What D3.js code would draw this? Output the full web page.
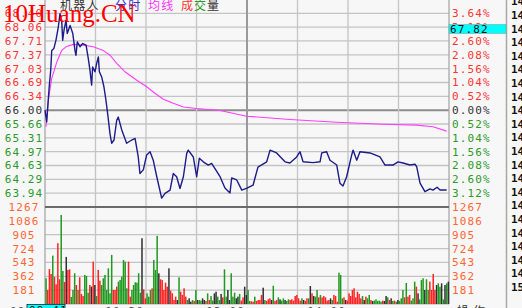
<!DOCTYPE html>
<html>
<head>
<meta charset="utf-8">
<script src="https://cdn.jsdelivr.net/npm/d3@7/dist/d3.min.js"></script>
<style>
html, body { margin: 0; padding: 0; background: #f7f7f7; overflow: hidden; }
svg { display: block; }
text { font-family: "DejaVu Sans Mono", monospace; font-size: 11px; }
</style>
</head>
<body>
<div id="vis"></div>
<script>
var preClose = 66.00;
var priceTicks = ["68.40","68.06","67.71","67.37","67.03","66.69","66.34","66.00","65.66","65.31","64.97","64.63","64.29","63.94"];
var pctTicks = ["3.64%","3.12%","2.60%","2.08%","1.56%","1.04%","0.52%","0.00%","0.52%","1.04%","1.56%","2.08%","2.60%","3.12%"];
var volTicks = ["1267","1086","905","724","543","362","181"];
var timeTickMins = [60, 120, 180];
var timeLabels = ["10:30","13:00","14:00"];
var tradeTimes = ["14:43","14:44","14:45","14:46","14:47","14:48","14:49","14:50","14:51","14:52","14:53","14:54",
  "14:55","14:55","14:56","14:56","14:57","14:57","14:58","14:58","14:59","15:00"];

var priceMin = [0,1,2.5,3.4,4,5.3,6.5,7.9,8.9,9.9,10.5,11.3,12.5,13.2,14.9,16.5,17.8,18.4,19.2,20.8,22.4,24.4,25.7,26.7,27.7,28.3,29.7,30.7,31.7,32.3,33.7,35,36.2,37.2,38.6,39.6,41,42.6,43.5,45.6,48.5,51.5,53.5,55.4,56.4,58.4,60.4,62.4,64.3,66.4,69.3,71.3,74.3,76.2,78.2,80.2,82.2,84.2,85.1,88.1,90.1,91.7,94,97,99,104,106.9,109.9,110.9,113.9,116.9,120,123.6,126.5,131.7,133.7,137.6,142.6,145.5,149.5,151.5,153.3,159.2,163.4,164.4,167.3,169.3,173.3,175.2,177,179.2,182.2,183,185.2,187.1,193.1,199,202,206.7,209.7,212.7,216.8,219.8,220.8,222.8,225.7,228.7,230.5,232.9,234.7,238.6];
var priceVal = [66.00,65.71,66.58,66.99,67.48,67.53,67.73,68.06,68.39,68.23,67.73,67.98,68.23,67.90,68.10,67.90,67.48,67.36,67.69,67.57,67.65,67.61,67.28,66.99,66.62,67.07,66.95,67.16,67.32,66.95,66.82,66.58,66.25,65.92,65.42,65.18,65.26,65.75,65.83,65.51,65.18,65.26,65.30,64.84,64.43,64.52,64.89,64.97,64.76,64.35,63.82,63.94,64.02,64.43,64.35,64.06,64.35,64.93,65.01,64.84,64.35,64.81,64.72,64.64,64.68,64.35,64.07,63.95,64.32,64.27,64.02,64.07,64.14,64.59,64.72,65.01,64.94,64.72,64.69,64.84,64.97,64.72,64.70,64.72,64.94,64.97,64.76,64.64,64.19,64.12,64.35,64.89,65.01,64.76,64.97,64.94,64.84,64.64,64.64,64.72,64.69,64.64,64.66,64.60,64.19,63.98,64.05,64.02,64.09,64.02,64.02];

var avgMin = [0.6,2,4,7,9.9,12.9,16.8,22.8,28.7,34.6,38.6,42.6,47.5,54.5,60.4,65.3,70.3,76.2,82.2,90.1,104,119.8,145.5,173.3,201,220.8,230.5,238.6];
var avgVal = [65.59,66.25,66.79,67.19,67.48,67.58,67.63,67.61,67.57,67.48,67.36,67.16,66.95,66.74,66.58,66.42,66.27,66.17,66.08,66.04,65.99,65.85,65.77,65.70,65.65,65.63,65.59,65.48];

var volume = [336,183,456,392,632,353,257,794,323,1163,
  432,288,615,445,453,92,183,401,248,183,
  349,131,105,379,366,148,248,227,553,248,
  105,445,305,248,336,379,183,466,140,641,
  183,183,227,292,314,357,575,553,205,553,
  96,183,248,283,279,401,148,859,191,74,
  140,96,183,205,575,445,890,401,323,314,
  183,279,227,466,174,140,52,96,52,349,
  161,118,205,96,52,74,30,52,40,183,
  52,52,45,74,52,40,139,52,104,45,
  139,161,96,52,131,87,453,96,183,52,
  401,96,148,74,96,131,45,87,226,118,
  183,40,35,30,96,40,52,52,118,213,
  52,40,61,74,52,239,40,52,87,61,
  45,74,52,40,61,52,61,45,104,118,
  74,44,74,52,40,74,74,235,139,104,
  96,183,87,118,87,104,87,45,52,74,
  52,118,104,30,409,379,74,87,52,45,
  139,104,183,205,87,161,131,74,104,52,
  96,74,118,52,39,45,61,40,44,30,
  44,40,104,87,52,74,40,44,30,52,
  40,74,183,87,275,96,118,45,74,292,
  227,139,60,314,336,183,323,183,292,183,
  392,183,248,270,226,270,60,248,270,292];
var volDir = ("grrrgrrrrg" + "grkrrgggrg" + "rrrgggrkrk" + "grrggggggg" + "rrrggggggr" +
  "rggggggkrr" + "gggrgggkrr" + "rrrkrrrrkg" + "rrrrgkkgrg" + "kggkkrgrgg" +
  "kkggkrggkk" + "gggkkgrrkk" + "ggrrgrrrrk" + "grrrkgrrgk" + "ggkggrrrrr" +
  "rrgkrrgkrk" + "ggrgrrrrrk" + "grrrgggrkr" + "rrrrrrrrgk" + "rggrkggggg" +
  "rkkgrkgrgk" + "gggrgrrggg" + "rkgggkggrr" + "rrkggkgkgk").split("");

var W = 522, H = 308;
var plotLeft = 45, plotRight = 449, plotTop = 13.3, plotMid = 207, plotBottom = 304;

var svg = d3.select("#vis").append("svg").attr("width", W).attr("height", H);
svg.append("rect").attr("width", W).attr("height", H).attr("fill", "#f7f7f7");

var x = d3.scaleLinear().domain([0, 240]).range([plotLeft, plotRight]);
var step = 0.3428;
var y = d3.scaleLinear().domain([preClose - 7 * step, preClose + 7 * step]).range([plotMid, plotTop]);
var yv = d3.scaleLinear().domain([0, 1267]).range([plotBottom, plotMid]);

var priceLevels = priceTicks.map(function(d, i) { return preClose + (7 - i) * step; });
var volLevels = volTicks.map(function(d) { return +d; });

// horizontal grid
svg.selectAll(".hgrid").data(priceLevels).enter().append("line")
  .attr("x1", plotLeft).attr("x2", plotRight)
  .attr("y1", function(d) { return y(d); }).attr("y2", function(d) { return y(d); })
  .attr("stroke", function(d, i) { return i == 7 ? "#8c8c8c" : "#c4c4c4"; })
  .attr("stroke-width", function(d, i) { return i == 7 ? 2 : 1.3; });
svg.selectAll(".vgrid").data(volLevels.slice(1).concat([0])).enter().append("line")
  .attr("x1", plotLeft).attr("x2", plotRight)
  .attr("y1", function(d) { return yv(d); }).attr("y2", function(d) { return yv(d); })
  .attr("stroke", "#c4c4c4").attr("stroke-width", 1.3);

// vertical grid
svg.selectAll(".tgrid").data(d3.range(0, 241, 30)).enter().append("line")
  .attr("x1", function(d) { return x(d); }).attr("x2", function(d) { return x(d); })
  .attr("y1", 0).attr("y2", plotBottom)
  .attr("stroke", function(d) { return d == 120 ? "#9a9a9a" : (d == 0 || d == 240 ? "#a8a8a8" : "#c4c4c4"); })
  .attr("stroke-width", function(d) { return d == 120 ? 2 : 1.3; });

svg.append("line").attr("x1", plotLeft).attr("x2", plotRight).attr("y1", plotMid).attr("y2", plotMid)
  .attr("stroke", "#6a6a6a").attr("stroke-width", 2);
svg.append("line").attr("x1", 506.5).attr("x2", 506.5).attr("y1", 0).attr("y2", H)
  .attr("stroke", "#a8a8a8").attr("stroke-width", 1.5);

// volume bars
var volColors = { r: "#ff2222", g: "#1f9a1f", k: "#303030" };
svg.selectAll(".bar").data(volume).enter().append("rect")
  .attr("x", function(d, i) { return x(i) + 0.3; })
  .attr("y", function(d) { return yv(d); })
  .attr("width", 1.5)
  .attr("height", function(d) { return plotBottom - yv(d); })
  .attr("fill", function(d, i) { return volColors[volDir[i]]; });

// average and price lines
var line = d3.line().x(function(d) { return x(d[0]); }).y(function(d) { return y(d[1]); });
svg.append("path").datum(d3.zip(avgMin, avgVal)).attr("d", line)
  .attr("fill", "none").attr("stroke", "#ff3cff").attr("stroke-width", 1.1);
svg.append("path").datum(d3.zip(priceMin, priceVal)).attr("d", line)
  .attr("fill", "none").attr("stroke", "#1c1c8a").attr("stroke-width", 1.4)
  .attr("stroke-linejoin", "round");

function tickColor(i) { return i < 7 ? "#ff3333" : (i == 7 ? "#333333" : "#2a9a2a"); }

// left axis
svg.selectAll(".pl").data(priceTicks).enter().append("text")
  .attr("x", 24).attr("y", function(d, i) { return y(priceLevels[i]) + 4; })
  .attr("text-anchor", "middle").attr("letter-spacing", 1.1)
  .attr("fill", function(d, i) { return tickColor(i); })
  .text(function(d) { return d; });
svg.selectAll(".vl").data(volTicks).enter().append("text")
  .attr("x", 24).attr("y", function(d, i) { return yv(volLevels[i]) + 4; })
  .attr("text-anchor", "middle").attr("letter-spacing", 1.1)
  .attr("fill", "#ff6633")
  .text(function(d) { return d; });

// right axis
svg.selectAll(".pr").data(pctTicks).enter().append("text")
  .attr("x", 452).attr("y", function(d, i) { return y(priceLevels[i]) + 4; })
  .attr("letter-spacing", 1.1)
  .attr("fill", function(d, i) { return tickColor(i); })
  .text(function(d) { return d; });
svg.selectAll(".vr").data(volTicks).enter().append("text")
  .attr("x", 452).attr("y", function(d, i) { return yv(volLevels[i]) + 4; })
  .attr("letter-spacing", 1.1)
  .attr("fill", "#ff6633")
  .text(function(d) { return d; });

// cursor price box
svg.append("rect").attr("x", 449).attr("y", 24.5).attr("width", 57).attr("height", 9)
  .attr("fill", "#00ffff").attr("stroke", "#7a9a9a").attr("stroke-width", 0.5);
svg.append("text").attr("x", 450).attr("y", 32.5).attr("letter-spacing", 1.1)
  .attr("fill", "#111").text("67.82");

// trade time column
svg.selectAll(".tt").data(tradeTimes).enter().append("text")
  .attr("x", 511).attr("y", function(d, i) { return 5.4 + i * 13.6; })
  .attr("font-weight", "bold").attr("font-size", "11px").attr("fill", "#111")
  .text(function(d) { return d; });

// bottom time labels
svg.append("text").attr("x", 10).attr("y", 315).attr("fill", "#555").attr("letter-spacing", 1.1).text("09:30");
svg.append("rect").attr("x", 27).attr("y", 304.5).attr("width", 38).attr("height", 10)
  .attr("fill", "#00ffff").attr("stroke", "#222").attr("stroke-width", 0.8);
svg.append("text").attr("x", 29).attr("y", 314).attr("fill", "#111").attr("letter-spacing", 1.1).text("09:41");
svg.selectAll(".tl").data(timeLabels).enter().append("text")
  .attr("x", function(d, i) { return x(timeTickMins[i]) - 2; })
  .attr("y", 315).attr("text-anchor", "end").attr("letter-spacing", 1.1).attr("fill", "#555")
  .text(function(d) { return d; });
svg.append("text").attr("x", 457).attr("y", 316).attr("fill", "#333")
  .style("font-family", "'Noto Sans CJK SC'").style("font-size", "12px").attr("letter-spacing", 4).text("操作");

// header
var header = [
  { t: "机器人", x: 60, c: "#333333" },
  { t: "分时", x: 115, c: "#3333cc" },
  { t: "均线", x: 148, c: "#ff33ff" },
  { t: "成", x: 181, c: "#ff3333" },
  { t: "交", x: 194, c: "#2a9a2a" },
  { t: "量", x: 207, c: "#333333" }
];
svg.selectAll(".hd").data(header).enter().append("text")
  .attr("x", function(d) { return d.x; }).attr("y", 9.5)
  .style("font-family", "'Noto Sans CJK SC'").style("font-size", "12px")
  .attr("letter-spacing", 1.2)
  .attr("fill", function(d) { return d.c; })
  .text(function(d) { return d.t; });

// watermark
svg.append("text").attr("x", 3).attr("y", 22)
  .style("font-family", "'Liberation Serif', serif").style("font-size", "25px")
  .attr("fill", "#ff0000").text("10Huang.CN");
</script>
</body>
</html>
